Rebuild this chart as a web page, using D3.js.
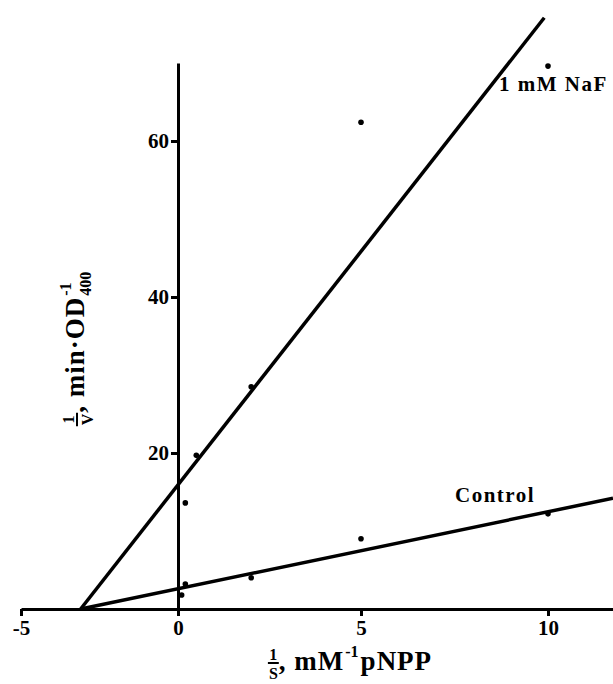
<!DOCTYPE html>
<html>
<head>
<meta charset="utf-8">
<script src="https://cdn.jsdelivr.net/npm/d3@7"></script>
<style>
  body { margin: 0; background: #fff; }
  text { font-family: "Liberation Serif", "Times New Roman", serif; font-weight: bold; fill: #000; }
</style>
</head>
<body>
<div id="chart"></div>
<script>
// Datos (Lineweaver-Burk)
const xTicks = [-5, 0, 5, 10]
const yTicks = [20, 40, 60]

const nafX = [0.2, 0.5, 2, 5, 10]
const nafY = [13.6, 19.7, 28.5, 62.4, 69.6]

const controlX = [0.1, 0.2, 2, 5, 10]
const controlY = [1.8, 3.2, 4.0, 9.0, 12.2]

// Rectas ajustadas: extremos
const nafLineX = [-3.1, 9.9]
const nafLineY = [0, 75.8]
const controlLineX = [-3.1, 11.74]
const controlLineY = [0, 14.2]

const width = 613, height = 684

const svg = d3.select("#chart")
  .append("svg")
    .attr("width", width)
    .attr("height", height)

// Escalas (el eje x del original no es uniforme)
const x = d3.scaleLinear()
  .domain([-5, 0, 5, 10, 11.74])
  .range([21, 178, 361, 548, 613])
const y = d3.scaleLinear()
  .domain([0, 70])
  .range([609, 63])

// Eje X
const xAxis = svg.append("g")
  .attr("transform", `translate(0, ${y(0)})`)
  .call(d3.axisBottom(x).tickValues(xTicks).tickSize(7).tickSizeOuter(0).tickPadding(4)
    .tickFormat(d => String(d)))
xAxis.select(".domain").attr("stroke-width", 3)
xAxis.selectAll(".tick line").attr("stroke-width", 3)
xAxis.selectAll(".tick text")
  .attr("font-size", 21)
  .attr("font-family", null)

// Eje Y
const yAxis = svg.append("g")
  .attr("transform", `translate(${x(0)}, 0)`)
  .call(d3.axisLeft(y).tickValues(yTicks).tickSize(7).tickSizeOuter(0).tickPadding(2))
yAxis.select(".domain").attr("stroke-width", 3)
yAxis.selectAll(".tick line").attr("stroke-width", 3)
yAxis.selectAll(".tick text")
  .attr("font-size", 21)
  .attr("font-family", null)
svg.selectAll(".domain, .tick line").attr("stroke", "#000")

// Rectas
const line = d3.line().x(d => x(d[0])).y(d => y(d[1]))
svg.append("path")
  .datum(d3.zip(nafLineX, nafLineY))
  .attr("fill", "none").attr("stroke", "#000").attr("stroke-width", 3.5)
  .attr("d", line)
svg.append("path")
  .datum(d3.zip(controlLineX, controlLineY))
  .attr("fill", "none").attr("stroke", "#000").attr("stroke-width", 3.5)
  .attr("d", line)

// Puntos
svg.append("g").selectAll("circle")
  .data(d3.zip(nafX, nafY).concat(d3.zip(controlX, controlY)))
  .join("circle")
    .attr("cx", d => x(d[0]))
    .attr("cy", d => y(d[1]))
    .attr("r", 2.8)
    .attr("fill", "#000")

// Etiquetas de series
svg.append("text")
  .attr("x", 499).attr("y", 91)
  .attr("font-size", 21).attr("letter-spacing", 1.5)
  .text("1 mM NaF")
svg.append("text")
  .attr("x", 455).attr("y", 502)
  .attr("font-size", 21).attr("letter-spacing", 1.5)
  .text("Control")

// Etiqueta compuesta: fracción 1/den + texto + índices
function axisLabel(g, den, main, sup, sub, tail) {
  const fs = 27, small = 16
  let cx = 0
  const num = g.append("text").attr("font-size", small).attr("text-anchor", "middle").text("1")
  const dn = g.append("text").attr("font-size", small).attr("text-anchor", "middle").text(den)
  const fw = Math.max(num.node().getComputedTextLength(), dn.node().getComputedTextLength()) + 2
  num.attr("x", fw / 2).attr("y", -10)
  dn.attr("x", fw / 2).attr("y", 9)
  g.append("line").attr("x1", 0).attr("x2", fw).attr("y1", -7).attr("y2", -7)
    .attr("stroke", "#000").attr("stroke-width", 2)
  cx = fw
  const m = g.append("text").attr("x", cx).attr("y", 0).attr("font-size", fs).attr("letter-spacing", 1).text(main)
  cx += m.node().getComputedTextLength() + 1
  let w = 0
  if (sup) {
    const s = g.append("text").attr("x", cx).attr("y", -13).attr("font-size", small).text(sup)
    w = s.node().getComputedTextLength()
  }
  if (sub) {
    const s = g.append("text").attr("x", cx).attr("y", 7).attr("font-size", small).text(sub)
    w = Math.max(w, s.node().getComputedTextLength())
  }
  cx += w + 2
  if (tail) {
    const t = g.append("text").attr("x", cx).attr("y", 0).attr("font-size", fs).attr("letter-spacing", 1).text(tail)
    cx += t.node().getComputedTextLength()
  }
  return cx
}

const xl = svg.append("g")
const xw = axisLabel(xl, "S", ", mM", "-1", null, "pNPP")
xl.attr("transform", `translate(${350 - xw / 2}, 670)`)

const yl = svg.append("g")
const yw = axisLabel(yl, "V", ", min\u00B7OD", "-1", "400", null)
yl.attr("transform", `translate(84, ${348 + yw / 2}) rotate(-90)`)
</script>
</body>
</html>
